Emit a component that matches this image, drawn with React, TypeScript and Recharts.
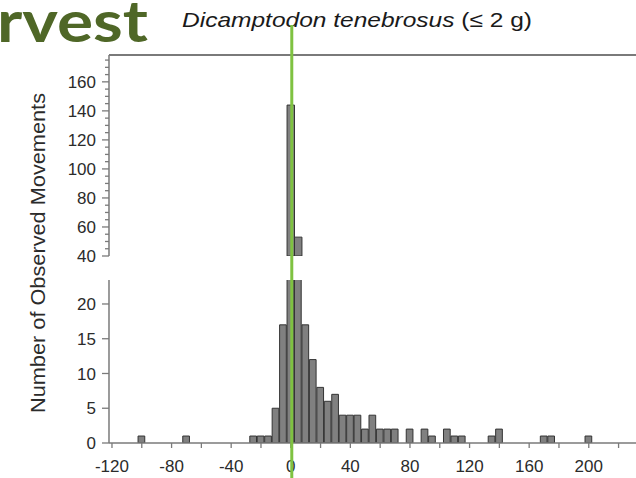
import { BarChart, Bar, XAxis, YAxis, ReferenceLine } from "recharts";

// histogram bins (centre of each 5-unit bin) and number of movements in each
const binCenters = [-100, -70, -25, -20, -15, -10, -5, 0, 5, 10, 15, 20, 25, 30, 35, 40, 45, 50, 55, 60, 65, 70, 80, 90, 95, 105, 110, 115, 135, 140, 170, 175, 200];
const counts = [1, 1, 1, 1, 1, 5, 17, 144, 53, 17, 12, 8, 6, 7, 4, 4, 4, 2, 4, 2, 2, 2, 2, 2, 1, 2, 1, 1, 1, 2, 1, 1, 1];

const xTicks = [-120, -100, -80, -60, -40, -20, 0, 20, 40, 60, 80, 100, 120, 140, 160, 180, 200, 220];
const xLabelTicks = [-120, -80, -40, 0, 40, 80, 120, 160, 200];
const topMajorTicks = [40, 60, 80, 100, 120, 140, 160];
const bottomTicks = [0, 5, 10, 15, 20];

const binWidth = 5;
const xMin = -122;
const xMax = 236;
const topMin = 40;
const topMax = 178.5;
const bottomMax = 23.45;

const plotLeft = 109;
const pxPerUnit = 1.49;
const chartW = plotLeft + (xMax - xMin) * pxPerUnit;

const axisColor = "#7a7a7a";
const textColor = "#2b2b2b";
const font = "'Liberation Sans', Arial, sans-serif";

const rows = binCenters.map((x, i) => ({ x, count: counts[i] }));
const topRows = rows.filter((r) => r.count > topMin);

// minor ticks every 5 on the upper panel
const topTicks: number[] = [];
for (let v = topMin; v <= 175; v += 5) topTicks.push(v);

const TopYTick = (props: any) => {
  const { x, y, payload } = props;
  const major = topMajorTicks.includes(payload.value);
  return (
    <g>
      <line x1={x - (major ? 7 : 4)} x2={x} y1={y} y2={y} stroke={axisColor} strokeWidth={1.3} />
      {major && (
        <text x={x - 13} y={y} dy="0.36em" textAnchor="end" fontSize={17} fill={textColor} fontFamily={font}>
          {payload.value}
        </text>
      )}
    </g>
  );
};

const BottomYTick = (props: any) => {
  const { x, y, payload } = props;
  return (
    <g>
      <line x1={x - 7} x2={x} y1={y} y2={y} stroke={axisColor} strokeWidth={1.3} />
      <text x={x - 13} y={y} dy="0.36em" textAnchor="end" fontSize={17} fill={textColor} fontFamily={font}>
        {payload.value}
      </text>
    </g>
  );
};

const XTick = (props: any) => {
  const { x, y, payload } = props;
  return (
    <g>
      <line x1={x} x2={x} y1={y} y2={y + 5} stroke={axisColor} strokeWidth={1.3} />
      {xLabelTicks.includes(payload.value) && (
        <text x={x} y={y + 29} textAnchor="middle" fontSize={17} fill={textColor} fontFamily={font}>
          {payload.value}
        </text>
      )}
    </g>
  );
};

const zeroX = plotLeft + (0 - xMin) * pxPerUnit;

export default function App() {
  const barSize = binWidth * pxPerUnit;
  return (
    <div style={{ position: "absolute", left: 0, top: 0, width: 636, height: 478, overflow: "hidden", background: "#fff" }}>
      {/* upper panel: 40 and above */}
      <div style={{ position: "absolute", left: 0, top: 0 }}>
        <BarChart width={chartW} height={270} data={topRows} margin={{ top: 55, right: 0, bottom: 14, left: 0 }} barCategoryGap={0}>
          <XAxis type="number" dataKey="x" domain={[xMin, xMax]} hide allowDataOverflow />
          <YAxis
            type="number"
            domain={[topMin, topMax]}
            ticks={topTicks}
            interval={0}
            width={plotLeft}
            tickSize={0}
            tickMargin={0}
            tickLine={false}
            tick={<TopYTick />}
            axisLine={{ stroke: axisColor, strokeWidth: 1.5 }}
            allowDataOverflow
          />
          <ReferenceLine y={topMax} stroke={axisColor} strokeWidth={1.8} />
          <Bar dataKey="count" fill="#808080" stroke="#333" strokeWidth={1} barSize={barSize} isAnimationActive={false} />
        </BarChart>
      </div>
      {/* lower panel: 0 to ~23 */}
      <div style={{ position: "absolute", left: 0, top: 0 }}>
        <BarChart width={chartW} height={478} data={rows} margin={{ top: 280, right: 0, bottom: 0, left: 0 }} barCategoryGap={0}>
          <XAxis
            type="number"
            dataKey="x"
            domain={[xMin, xMax]}
            ticks={xTicks}
            interval={0}
            height={35}
            tickSize={0}
            tickMargin={0}
            tickLine={false}
            tick={<XTick />}
            axisLine={{ stroke: axisColor, strokeWidth: 1.5 }}
            allowDataOverflow
          />
          <YAxis
            type="number"
            domain={[0, bottomMax]}
            ticks={bottomTicks}
            interval={0}
            width={plotLeft}
            tickSize={0}
            tickMargin={0}
            tickLine={false}
            tick={<BottomYTick />}
            axisLine={{ stroke: axisColor, strokeWidth: 1.5 }}
            allowDataOverflow
          />
          <Bar dataKey="count" fill="#808080" stroke="#333" strokeWidth={1} barSize={barSize} isAnimationActive={false} />
        </BarChart>
      </div>
      {/* slide overlay: title, axis label, marker line */}
      <svg width={636} height={478} style={{ position: "absolute", left: 0, top: 0, pointerEvents: "none" }}>
        <text
          x={-3}
          y={42}
          fontSize={58}
          fontWeight={700}
          fill="#4f6727"
          fontFamily="Lato, 'Open Sans', sans-serif"
          textLength={151}
          lengthAdjust="spacingAndGlyphs"
        >
          rvest
        </text>
        <text x={182} y={27} fontSize={21} fill="#1a1a1a" fontFamily={font} textLength={350} lengthAdjust="spacingAndGlyphs">
          <tspan fontStyle="italic">Dicamptodon tenebrosus</tspan> (≤ 2 g)
        </text>
        <text
          x={45}
          y={253}
          transform="rotate(-90, 45, 253)"
          textAnchor="middle"
          fontSize={20}
          fill={textColor}
          fontFamily={font}
          textLength={320}
          lengthAdjust="spacingAndGlyphs"
        >
          Number of Observed Movements
        </text>
        <line x1={zeroX + 1} x2={zeroX + 1} y1={25} y2={478} stroke="#7fc241" strokeWidth={3} />
      </svg>
    </div>
  );
}
